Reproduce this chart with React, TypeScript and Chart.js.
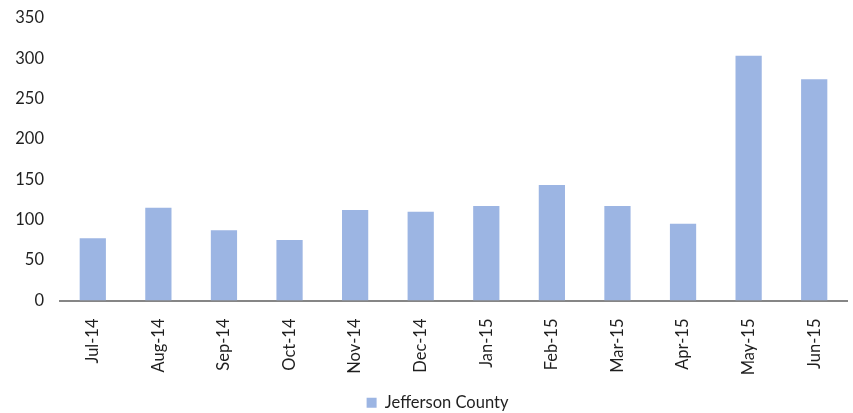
import React, { useEffect, useRef } from "react";
import { Chart, registerables } from "chart.js";

Chart.register(...registerables);

const categories = ["Jul-14", "Aug-14", "Sep-14", "Oct-14", "Nov-14", "Dec-14", "Jan-15", "Feb-15", "Mar-15", "Apr-15", "May-15", "Jun-15"];
const seriesName = "Jefferson County";
const values = [77, 115, 87, 75, 112, 110, 117, 143, 117, 95, 303, 274];
const yMin = 0;
const yMax = 350;
const yStep = 50;

const legendShift = {
  id: "legendShift",
  afterLayout(chart: any) {
    if (chart.legend) {
      chart.legend.left += 14;
      chart.legend.right += 14;
    }
  },
};

export default function App() {
  const ref = useRef<HTMLCanvasElement | null>(null);
  useEffect(() => {
    document.body.style.margin = "0";
    if (!ref.current) return;
    const font = { family: "Lato, 'Open Sans', sans-serif", size: 16.5 };
    const chart = new Chart(ref.current, {
      type: "bar",
      data: {
        labels: categories,
        datasets: [
          {
            label: seriesName,
            data: values,
            backgroundColor: "#9cb5e3",
            borderWidth: 0,
            categoryPercentage: 1,
            barPercentage: 0.4,
          },
        ],
      },
      plugins: [legendShift],
      options: {
        animation: false,
        responsive: true,
        maintainAspectRatio: false,
        layout: { padding: { top: 4, right: 6, left: 0, bottom: -8 } },
        plugins: {
          tooltip: { enabled: false },
          legend: {
            position: "bottom",
            labels: {
              font,
              color: "#1f1f1f",
              boxWidth: 10,
              boxHeight: 10,
              padding: 0,
            },
          },
        },
        scales: {
          x: {
            grid: { display: false },
            border: { display: true, color: "#868686", width: 2 },
            ticks: {
              font,
              color: "#1f1f1f",
              minRotation: 90,
              maxRotation: 90,
              autoSkip: false,
              padding: 10,
            },
            afterFit: (axis: any) => {
              axis.height = 94;
            },
          },
          y: {
            min: yMin,
            max: yMax,
            grid: { display: false },
            border: { display: false },
            ticks: {
              stepSize: yStep,
              font,
              color: "#1f1f1f",
              padding: 8,
            },
            afterFit: (axis: any) => {
              axis.width = 60;
            },
          },
        },
      },
    });
    return () => chart.destroy();
  }, []);
  return (
    <div style={{ width: 853, height: 413, position: "relative" }}>
      <canvas ref={ref} />
    </div>
  );
}
